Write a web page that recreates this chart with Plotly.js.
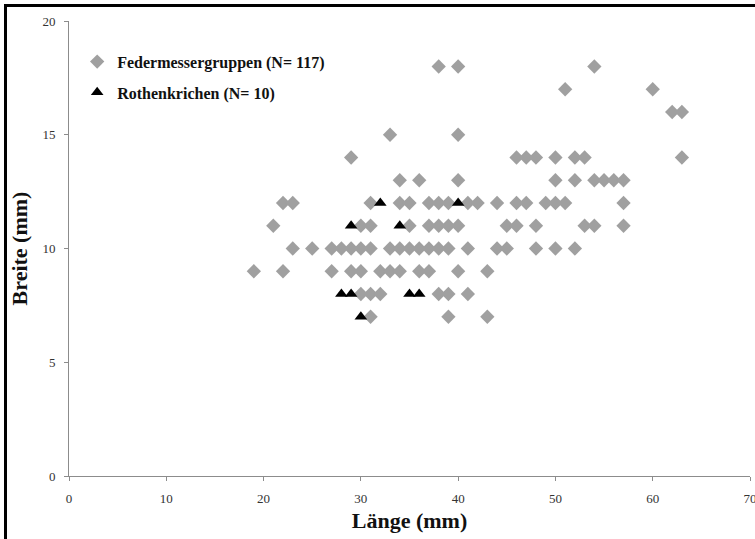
<!DOCTYPE html>
<html>
<head>
<meta charset="utf-8">
<script src="https://cdn.plot.ly/plotly-3.0.1.min.js"></script>
<style>
  html, body { margin: 0; padding: 0; background: #fff; }
  #wrap { position: relative; width: 755px; height: 539px; overflow: hidden; }
  #chart { width: 755px; height: 539px; }
  #frame { position: absolute; left: 4px; top: 4px; width: 800px; height: 600px;
           border-left: 3px solid #000; border-top: 3px solid #000; pointer-events: none; }
</style>
</head>
<body>
<div id="wrap">
  <div id="chart"></div>
  <div id="frame"></div>
</div>
<script>
// Federmessergruppen (Länge, Breite) in mm
const fedX = [
  38, 40, 54,
  51, 60,
  62, 63,
  33, 40,
  29, 46, 47, 48, 50, 52, 53, 63,
  34, 36, 40, 50, 52, 54, 55, 56, 57,
  22, 23, 31, 34, 35, 37, 38, 39, 41, 42, 44, 46, 47, 49, 50, 51, 57,
  21, 30, 31, 35, 37, 38, 39, 40, 45, 46, 48, 53, 54, 57,
  23, 25, 27, 28, 29, 30, 31, 33, 34, 35, 36, 37, 38, 39, 41, 44, 45, 48, 50, 52,
  19, 22, 27, 29, 30, 32, 33, 34, 36, 37, 40, 43,
  30, 31, 32, 38, 39, 41,
  31, 39, 43
];
const fedY = [
  18, 18, 18,
  17, 17,
  16, 16,
  15, 15,
  14, 14, 14, 14, 14, 14, 14, 14,
  13, 13, 13, 13, 13, 13, 13, 13, 13,
  12, 12, 12, 12, 12, 12, 12, 12, 12, 12, 12, 12, 12, 12, 12, 12, 12,
  11, 11, 11, 11, 11, 11, 11, 11, 11, 11, 11, 11, 11, 11,
  10, 10, 10, 10, 10, 10, 10, 10, 10, 10, 10, 10, 10, 10, 10, 10, 10, 10, 10, 10,
  9, 9, 9, 9, 9, 9, 9, 9, 9, 9, 9, 9,
  8, 8, 8, 8, 8, 8,
  7, 7, 7
];
// Rothenkrichen
const rothX = [32, 40, 29, 34, 28, 29, 35, 36, 30];
const rothY = [12, 12, 11, 11, 8, 8, 8, 8, 7];

const xTicks = [0, 10, 20, 30, 40, 50, 60, 70];
const yTicks = [0, 5, 10, 15, 20];

const serif = "Liberation Serif, Times New Roman, serif";

const traces = [
  {
    x: fedX, y: fedY, type: 'scatter', mode: 'markers',
    name: '<b>Federmessergruppen (N= 117)</b>',
    legendgroup: 'a',
    marker: { symbol: 'diamond', size: 11, color: '#a0a0a0', line: { width: 0 } }
  },
  {
    x: rothX, y: rothY, type: 'scatter', mode: 'markers',
    name: '<b>Rothenkrichen (N= 10)</b>',
    legendgroup: 'b',
    marker: { symbol: 'triangle-up', size: 11, color: '#000000', line: { width: 0 } }
  }
];

const layout = {
  width: 755, height: 539,
  margin: { l: 69, r: 5, t: 21, b: 63 },
  paper_bgcolor: '#ffffff', plot_bgcolor: '#ffffff',
  font: { family: serif, size: 13, color: '#333333' },
  showlegend: true,
  legend: {
    x: 0.012, y: 0.948, xanchor: 'left', yanchor: 'top',
    bgcolor: 'rgba(0,0,0,0)',
    font: { family: serif, size: 16, color: '#111111' },
    traceorder: 'grouped', tracegroupgap: 7
  },
  xaxis: {
    range: [0, 70], tickvals: xTicks, ticktext: xTicks.map(String),
    showgrid: false, zeroline: false, showline: true,
    linecolor: '#8c8c8c', linewidth: 1,
    ticks: 'outside', ticklen: 4, tickcolor: '#8c8c8c',
    ticklabelstandoff: 6, ticklabeloverflow: 'allow',
    tickfont: { family: serif, size: 13, color: '#333333' },
    title: { text: '<b>Länge (mm)</b>', font: { family: serif, size: 22, color: '#111111' }, standoff: 8 },
    fixedrange: true
  },
  yaxis: {
    range: [0, 20], tickvals: yTicks, ticktext: yTicks.map(String),
    showgrid: false, zeroline: false, showline: true,
    linecolor: '#8c8c8c', linewidth: 1,
    ticks: 'outside', ticklen: 4, tickcolor: '#8c8c8c',
    ticklabelstandoff: 6, ticklabeloverflow: 'allow',
    tickfont: { family: serif, size: 13, color: '#333333' },
    title: { text: '<b>Breite (mm)</b>', font: { family: serif, size: 22, color: '#111111' }, standoff: 8 },
    fixedrange: true
  }
};

Plotly.newPlot('chart', traces, layout, { displayModeBar: false, staticPlot: true });
</script>
</body>
</html>
